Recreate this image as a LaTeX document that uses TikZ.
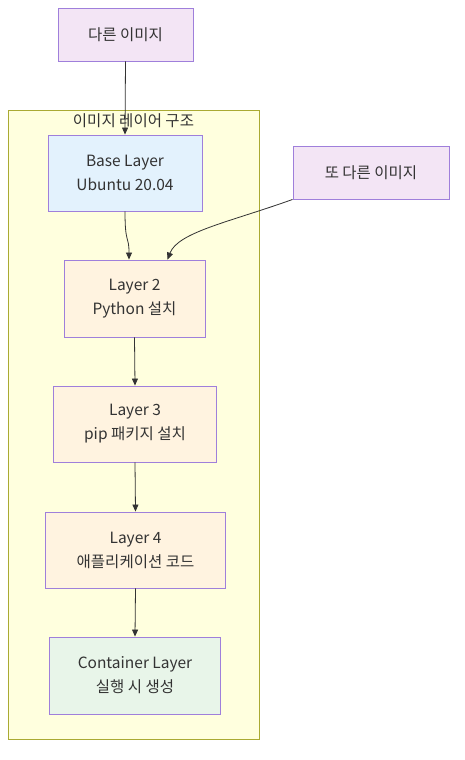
\documentclass[tikz,border=0pt]{standalone}
\usepackage{fontspec}
\setmainfont{Noto Sans CJK KR}
\usetikzlibrary{arrows.meta}
\definecolor{txt}{HTML}{333333}
\definecolor{bord}{HTML}{9F7FDB}
\definecolor{imgfill}{HTML}{F3E5F5}
\definecolor{basefill}{HTML}{E3F2FD}
\definecolor{layfill}{HTML}{FFF3E0}
\definecolor{contfill}{HTML}{E8F5E9}
\definecolor{clfill}{HTML}{FFFFDE}
\definecolor{clbord}{HTML}{AAAA33}
\definecolor{edge}{HTML}{333333}
\tikzset{
  box/.style={draw=bord, line width=0.9pt, rectangle, align=center, text=txt,
    font=\fontsize{15.5}{24}\selectfont, inner sep=0pt},
  imgbox/.style={box, fill=imgfill},
  basebox/.style={box, fill=basefill},
  laybox/.style={box, fill=layfill},
  contbox/.style={box, fill=contfill},
  conn/.style={draw=edge, line width=0.8pt, -{Triangle[length=7pt,width=6pt]}},
}
\begin{document}
\begin{tikzpicture}[x=1pt,y=-1pt]
\useasboundingbox (0,0) rectangle (465,760);
\fill[white] (0,0) rectangle (465,760);
\node[draw=clbord, fill=clfill, line width=0.8pt, minimum width=251pt, minimum height=629pt, inner sep=0pt] (cluster) at (133.5,424.5) {};
\node[text=txt, font=\fontsize{15.5}{18}\selectfont, anchor=center] (cltitle) at (133.5,121) {이미지 레이어 구조};
\node[imgbox, minimum width=135pt, minimum height=53pt] (img1) at (125.5,34.5) {다른 이미지};
\node[imgbox, minimum width=156pt, minimum height=53pt] (img2) at (371,172.5) {또 다른 이미지};
\node[basebox, minimum width=154pt, minimum height=76pt] (base) at (125,173) {Base Layer\\Ubuntu 20.04};
\node[laybox, minimum width=141pt, minimum height=77pt] (l2) at (134.5,298.5) {Layer 2\\Python 설치};
\node[laybox, minimum width=163pt, minimum height=76pt] (l3) at (135,424) {Layer 3\\pip 패키지 설치};
\node[laybox, minimum width=180pt, minimum height=76pt] (l4) at (135.5,550) {Layer 4\\애플리케이션 코드};
\node[contbox, minimum width=171pt, minimum height=77pt] (cont) at (135,675.5) {Container Layer\\실행 시 생성};
\draw[conn] (img1.south) -- (base.north);
\draw[conn] (base.south) .. controls (125,245) and (129,235) .. ([xshift=-5.5pt]l2.north);
\draw[conn] (img2.south west) .. controls (230,222) and (178,232) .. ([xshift=33pt]l2.north);
\draw[conn] (l2.south) -- (l3.north);
\draw[conn] (l3.south) -- (l4.north);
\draw[conn] (l4.south) -- (cont.north);
\end{tikzpicture}
\end{document}
